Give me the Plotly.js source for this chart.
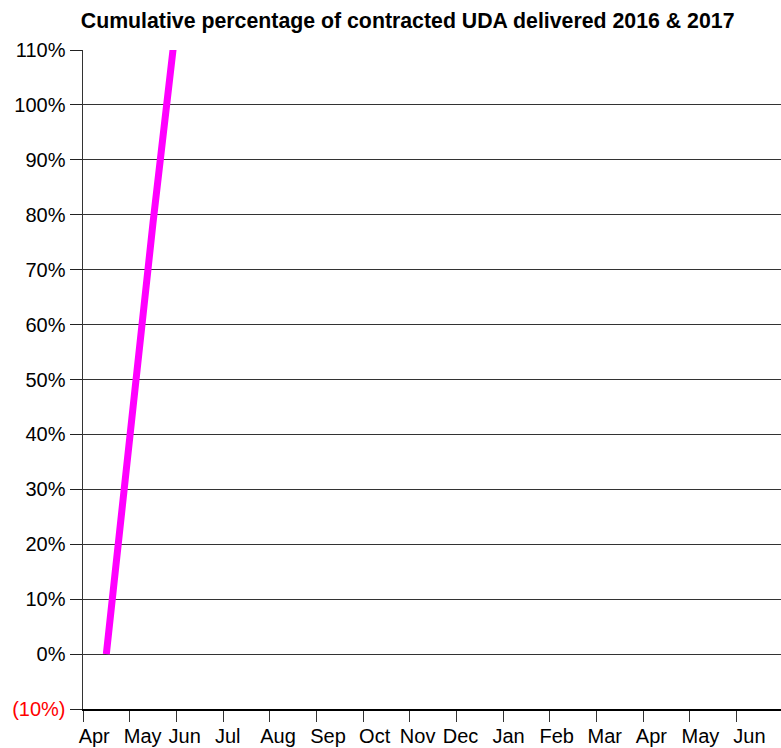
<!DOCTYPE html>
<html>
<head>
<meta charset="utf-8">
<script src="https://cdn.plot.ly/plotly-3.0.1.min.js"></script>
<style>html,body{margin:0;padding:0;overflow:hidden;background:#fff;}</style>
</head>
<body>
<div id="chart" style="width:790px;height:748px;"></div>
<script>
// Data
const months = ["Apr","May","Jun","Jul","Aug","Sep","Oct","Nov","Dec","Jan","Feb","Mar","Apr","May","Jun"];
const cumulativePct = [0.0, 0.785, 1.52, null, null, null, null, null, null, null, null, null, null, null, null];
const yTickValues = [-0.1,0,0.1,0.2,0.3,0.4,0.5,0.6,0.7,0.8,0.9,1.0,1.1];
const yTickLabels = ["(10%)","0%","10%","20%","30%","40%","50%","60%","70%","80%","90%","100%","110%"];

// Layout constants (label positions relative to month index, as in the reference)
const labelShift = [-0.26,-0.22,-0.32,-0.40,-0.32,-0.25,-0.25,-0.33,-0.41,-0.38,-0.35,-0.32,-0.32,-0.27,-0.22];

const xIdx = months.map((m,i)=>i);
const trace = {
  x: xIdx,
  y: cumulativePct,
  type: 'scatter',
  mode: 'lines',
  line: {color: '#FF00FF', width: 7},
  connectgaps: false,
  hoverinfo: 'skip',
  cliponaxis: true
};

const layout = {
  width: 790, height: 748,
  margin: {l: 83, r: 7, t: 50, b: 39},
  paper_bgcolor: '#fff', plot_bgcolor: '#fff',
  showlegend: false,
  font: {family: 'Liberation Sans, Arial, sans-serif', size: 20, color: '#000'},
  title: {
    text: '<b>Cumulative percentage of contracted UDA delivered 2016 &amp; 2017</b>',
    font: {family: 'Liberation Sans, Arial, sans-serif', size: 21.3, color: '#000'},
    x: 0.516, xanchor: 'center', y: 0.972, yanchor: 'middle'
  },
  xaxis: {
    type: 'linear',
    range: [-0.5, 14.5],
    tickmode: 'array',
    tickvals: xIdx.map((v,i)=>v + labelShift[i]),
    ticktext: months,
    ticks: 'outside', ticklen: 8, tickcolor: 'rgba(0,0,0,0)',
    tickfont: {size: 20, color: '#000'},
    showgrid: false, zeroline: false,
    showline: true, linecolor: '#000', linewidth: 1.5,
    minor: {tickmode: 'linear', tick0: -0.5, dtick: 1, ticks: 'outside', ticklen: 11, tickcolor: '#333', tickwidth: 1, showgrid: false},
    fixedrange: true
  },
  yaxis: {
    range: [-0.1, 1.1],
    tickmode: 'array',
    tickvals: yTickValues,
    ticktext: yTickLabels.map(t => t.startsWith('(') ? '<span style="color:#ff0000">' + t + '</span>' : t),
    ticks: 'outside', ticklen: 12, tickcolor: '#222', tickwidth: 1,
    tickfont: {size: 20, color: '#000'},
    showgrid: true, gridcolor: '#333', gridwidth: 1,
    zeroline: false,
    showline: true, linecolor: '#333', linewidth: 1.5,
    fixedrange: true
  }
};

Plotly.newPlot('chart', [trace], layout, {staticPlot: true, displayModeBar: false});
</script>
</body>
</html>
